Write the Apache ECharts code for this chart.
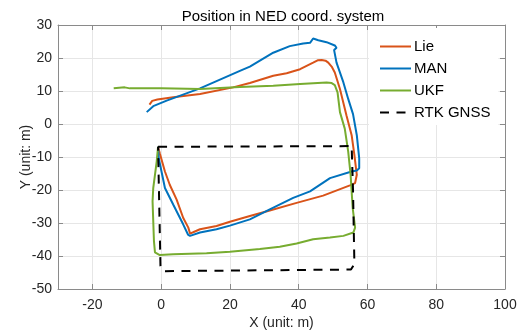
<!DOCTYPE html>
<html>
<head>
<meta charset="utf-8">
<script src="https://cdn.jsdelivr.net/npm/echarts@6.0.0/dist/echarts.min.js"></script>
<style>
  html, body { margin: 0; padding: 0; background: #fff; }
  #chart { width: 525px; height: 335px; }
</style>
</head>
<body>
<div id="chart"></div>
<script>
// 刻度
var xTicks = [-20, 0, 20, 40, 60, 80, 100]
var yTicks = [-50, -40, -30, -20, -10, 0, 10, 20, 30]

// 轨迹 [x, y] (m)
var liePath = [[-3.4, 5.9], [-2.6, 7.0], [-1.1, 7.4], [3.5, 8.1], [11.3, 9.1], [20.9, 11.1], [25.8, 12.4], [32.6, 14.6],
  [36.5, 15.4], [40.4, 16.6], [44.2, 18.6], [45.5, 19.3], [46.7, 19.4], [47.8, 19.2], [48.6, 18.6], [49.7, 17.2],
  [50.5, 15.6], [52.0, 10.6], [53.9, 2.6], [55.4, -3.4], [56.2, -9.4], [56.9, -15.4], [56.4, -17.9], [54.9, -18.6],
  [47.1, -21.7], [39.4, -23.9], [31.6, -26.2], [25.8, -27.9], [20.0, -29.6], [16.1, -30.9], [11.3, -31.9],
  [9.3, -32.8], [8.4, -33.2], [7.9, -31.4], [6.4, -28.4], [4.5, -22.9], [2.5, -18.4], [1.1, -14.4], [-0.4, -8.9], [-0.9, -6.9]]

var manPath = [[-4.2, 3.6], [-2.3, 5.4], [1.6, 7.1], [11.3, 10.8], [22.9, 16.1], [25.8, 17.4], [32.6, 21.6], [37.4, 23.6],
  [41.3, 24.4], [43.3, 24.6], [43.8, 25.1], [44.2, 25.9], [45.7, 25.4], [48.1, 24.8], [50.5, 23.8], [51.0, 23.1],
  [50.3, 22.4], [51.0, 18.6], [53.0, 12.6], [54.4, 7.6], [55.8, 3.0], [56.9, -3.4], [57.6, -10.4], [57.6, -13.4],
  [56.9, -14.1], [55.4, -14.4], [49.1, -16.4], [43.3, -20.4], [38.4, -22.4], [31.6, -25.9], [25.8, -28.9],
  [20.0, -30.8], [16.1, -31.9], [11.3, -32.9], [8.4, -33.9], [7.8, -33.5], [6.4, -30.4], [3.5, -24.4], [1.1, -19.4],
  [0.1, -14.4], [-0.7, -10.4], [-0.9, -6.9]]

var ukfPath = [[-13.8, 10.8], [-10.6, 11.1], [-9.1, 10.8], [0.0, 10.8], [11.3, 10.6], [22.9, 11.2], [32.6, 11.6],
  [40.4, 12.1], [48.1, 12.6], [49.6, 12.4], [50.5, 11.8], [51.3, 9.6], [52.0, 3.6], [53.4, -1.4], [54.4, -8.4],
  [55.1, -15.4], [55.7, -25.4], [56.4, -31.4], [55.9, -32.9], [53.0, -33.9], [49.1, -34.4], [44.2, -34.9],
  [39.4, -36.2], [34.5, -37.2], [28.7, -37.9], [20.0, -38.7], [13.2, -39.2], [3.5, -39.5], [-0.4, -39.7],
  [-1.8, -38.9], [-2.1, -35.4], [-2.3, -29.4], [-2.5, -23.4], [-2.3, -19.4], [-1.8, -15.4], [-1.3, -11.4], [-0.9, -6.9]]

var rtkPath = [[-0.9, -6.9], [55.4, -6.7], [55.8, -20.0], [56.2, -42.4], [55.2, -44.1], [0.6, -44.6], [-0.2, -43.0], [-0.9, -6.9]]

var font = 'Liberation Sans, Arial, Helvetica, sans-serif'
var textColor = '#262626'
var boxColor = '#8a8a8a'
var gridColor = '#e6e6e6'

function lineSeries(name, data, color, dashed) {
  return {
    name: name,
    type: 'line',
    data: data,
    xAxisIndex: 0,
    yAxisIndex: 0,
    symbol: 'none',
    showSymbol: false,
    smooth: false,
    lineStyle: { color: color, width: 2, type: dashed ? [9, 7.5] : 'solid' },
    itemStyle: { color: color },
    z: 3
  }
}

var chart = echarts.init(document.getElementById('chart'))

var option = {
  animation: false,
  backgroundColor: '#fff',
  textStyle: { fontFamily: font },
  title: {
    text: 'Position in NED coord. system',
    left: 278,
    textAlign: 'center',
    top: 4,
    textStyle: { fontFamily: font, fontSize: 15, fontWeight: 'normal', color: '#000' }
  },
  grid: { left: 58, right: 20, top: 25, bottom: 43, containLabel: false },
  legend: {
    orient: 'vertical',
    left: 369,
    top: 28,
    padding: [11, 8, 5, 10],
    backgroundColor: '#fff',
    itemWidth: 31,
    itemHeight: 14,
    itemGap: 7,
    // 只画线，不画圆点
    itemStyle: { opacity: 0 },
    textStyle: { fontFamily: font, fontSize: 15, color: '#000', padding: [0, 0, 0, -2] },
    data: ['Lie', 'MAN', 'UKF', 'RTK GNSS']
  },
  xAxis: [
    {
      type: 'value',
      min: -30,
      max: 100,
      name: 'X (unit: m)',
      nameLocation: 'middle',
      nameGap: 27,
      nameMoveOverlap: false,
      nameTextStyle: { fontFamily: font, fontSize: 14, color: textColor },
      axisLine: { show: true, onZero: false, lineStyle: { color: boxColor, width: 1 } },
      axisTick: { show: true, inside: true, length: 5, customValues: xTicks, lineStyle: { color: boxColor } },
      axisLabel: { customValues: xTicks, margin: 9, fontFamily: font, fontSize: 14, color: textColor },
      splitLine: { show: true, lineStyle: { color: gridColor, width: 1 } }
    },
    {
      type: 'value',
      position: 'top',
      min: -30,
      max: 100,
      axisLine: { show: true, onZero: false, lineStyle: { color: boxColor, width: 1 } },
      axisTick: { show: true, inside: true, length: 5, customValues: xTicks, lineStyle: { color: boxColor } },
      axisLabel: { show: false },
      splitLine: { show: false }
    }
  ],
  yAxis: [
    {
      type: 'value',
      min: -50,
      max: 30,
      interval: 10,
      name: 'Y (unit: m)',
      nameLocation: 'middle',
      nameGap: 25,
      nameMoveOverlap: false,
      nameTextStyle: { fontFamily: font, fontSize: 14, color: textColor },
      axisLine: { show: true, onZero: false, lineStyle: { color: boxColor, width: 1 } },
      axisTick: { show: true, inside: true, length: 5, customValues: yTicks, lineStyle: { color: boxColor } },
      axisLabel: { customValues: yTicks, margin: 6, fontFamily: font, fontSize: 14, color: textColor },
      splitLine: { show: true, lineStyle: { color: gridColor, width: 1 } }
    },
    {
      type: 'value',
      position: 'right',
      min: -50,
      max: 30,
      interval: 10,
      axisLine: { show: true, onZero: false, lineStyle: { color: boxColor, width: 1 } },
      axisTick: { show: true, inside: true, length: 5, customValues: yTicks, lineStyle: { color: boxColor } },
      axisLabel: { show: false },
      splitLine: { show: false }
    }
  ],
  series: [
    lineSeries('Lie', liePath, '#D95319', false),
    lineSeries('MAN', manPath, '#0072BD', false),
    lineSeries('UKF', ukfPath, '#77AC30', false),
    lineSeries('RTK GNSS', rtkPath, '#000000', true)
  ]
}

chart.setOption(option)
</script>
</body>
</html>
